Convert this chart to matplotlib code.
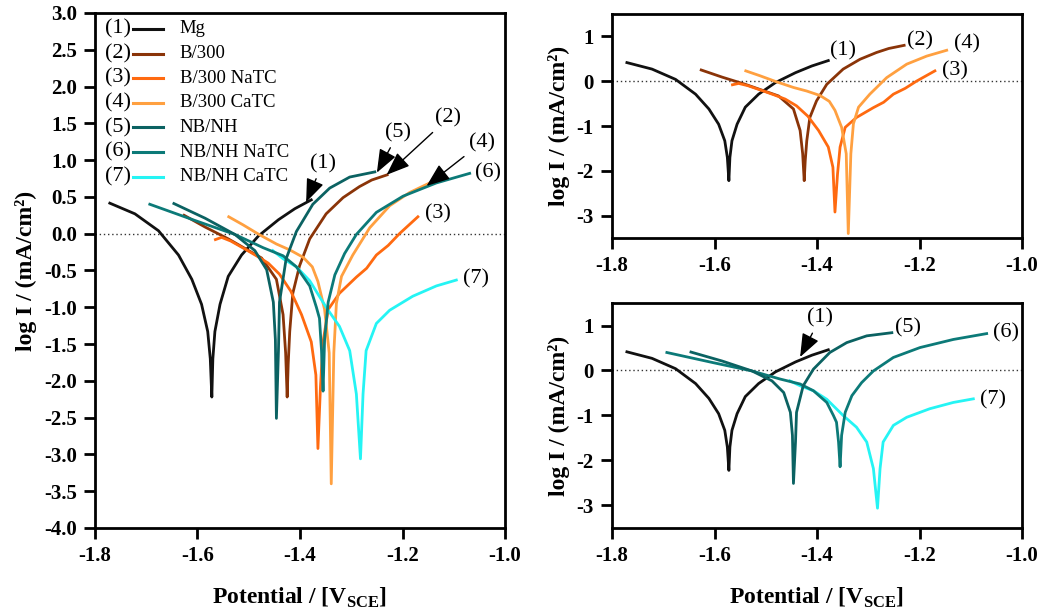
import matplotlib
import matplotlib.pyplot as plt

matplotlib.use("Agg")

plt.rcParams["font.family"] = ["Liberation Serif", "DejaVu Serif"]
plt.rcParams["mathtext.fontset"] = "custom"
plt.rcParams["mathtext.rm"] = "Liberation Serif"
plt.rcParams["mathtext.bf"] = "Liberation Serif:bold"
plt.rcParams["axes.unicode_minus"] = False

# ---------------------------------------------------------------------------
# Data: potential (V vs SCE) and log current density (mA/cm2)
# ---------------------------------------------------------------------------

labels = ["Mg", "B/300", "B/300 NaTC", "B/300 CaTC", "NB/NH", "NB/NH NaTC", "NB/NH CaTC"]
colours = ["#111111", "#8a3408", "#ff6a10", "#ffa040", "#0b6262", "#0c7a78", "#25f4f4"]

mg_E = [-1.771, -1.722, -1.676, -1.637, -1.611, -1.592, -1.580, -1.575, -1.572,
        -1.570, -1.566, -1.556, -1.540, -1.514, -1.481, -1.442, -1.410, -1.378]
mg_I = [0.415, 0.27, 0.04, -0.29, -0.62, -0.96, -1.33, -1.70, -2.22,
        -1.70, -1.33, -0.96, -0.58, -0.29, -0.03, 0.19, 0.34, 0.46]

b300_E = [-1.626, -1.585, -1.540, -1.475, -1.446, -1.433, -1.428, -1.425,
          -1.423, -1.420, -1.414, -1.401, -1.381, -1.349, -1.316, -1.284, -1.260, -1.230]
b300_I = [0.25, 0.09, -0.07, -0.33, -0.62, -1.10, -1.62, -2.22,
          -1.77, -1.33, -0.81, -0.44, -0.07, 0.27, 0.49, 0.64, 0.73, 0.80]

b300na_E = [-1.565, -1.553, -1.535, -1.507, -1.485, -1.462, -1.440, -1.418, -1.397,
            -1.378, -1.369, -1.365, -1.360, -1.355, -1.345, -1.323, -1.290, -1.270,
            -1.251, -1.228, -1.206, -1.170]
b300na_I = [-0.08, -0.05, -0.10, -0.21, -0.30, -0.40, -0.55, -0.78, -1.10,
            -1.47, -1.92, -2.92, -2.07, -1.47, -1.03, -0.81, -0.59, -0.47,
            -0.29, -0.16, 0.00, 0.23]

b300ca_E = [-1.539, -1.511, -1.480, -1.446, -1.420, -1.394, -1.376, -1.365, -1.352,
            -1.343, -1.339, -1.334, -1.329, -1.319, -1.297, -1.264, -1.225, -1.186, -1.147]
b300ca_I = [0.23, 0.12, -0.01, -0.14, -0.22, -0.32, -0.45, -0.65, -1.03,
            -1.62, -3.40, -1.62, -0.95, -0.58, -0.29, 0.08, 0.38, 0.56, 0.69]

nbnh_E = [-1.646, -1.585, -1.527, -1.488, -1.465, -1.452, -1.448, -1.446,
          -1.442, -1.440, -1.427, -1.407, -1.375, -1.342, -1.303, -1.254]
nbnh_I = [0.41, 0.21, -0.01, -0.23, -0.49, -0.93, -1.44, -2.51,
          -1.59, -0.93, -0.34, 0.03, 0.40, 0.62, 0.77, 0.84]

nbnhna_E = [-1.693, -1.605, -1.527, -1.472, -1.433, -1.407, -1.381, -1.368, -1.362,
            -1.358, -1.355, -1.352, -1.345, -1.332, -1.313, -1.290, -1.251, -1.199,
            -1.134, -1.069]
nbnhna_I = [0.40, 0.18, -0.01, -0.19, -0.30, -0.45, -0.71, -1.00, -1.15,
            -1.59, -2.14, -1.44, -0.93, -0.56, -0.27, -0.01, 0.29, 0.51,
            0.69, 0.82]

nbnhca_E = [-1.453, -1.433, -1.407, -1.381, -1.349, -1.323, -1.303, -1.290, -1.282,
            -1.277, -1.271, -1.251, -1.225, -1.180, -1.134, -1.095]
nbnhca_I = [-0.23, -0.34, -0.45, -0.64, -1.00, -1.26, -1.59, -2.18, -3.06,
            -2.18, -1.59, -1.22, -1.04, -0.85, -0.71, -0.63]

curves = [(mg_E, mg_I), (b300_E, b300_I), (b300na_E, b300na_I), (b300ca_E, b300ca_I),
          (nbnh_E, nbnh_I), (nbnhna_E, nbnhna_I), (nbnhca_E, nbnhca_I)]

x_ticks = [-1.8, -1.6, -1.4, -1.2, -1.0]
left_y_ticks = [-4.0, -3.5, -3.0, -2.5, -2.0, -1.5, -1.0, -0.5, 0.0, 0.5, 1.0, 1.5, 2.0, 2.5, 3.0]
right_y_ticks = [-3, -2, -1, 0, 1]

XLABEL = "Potential / [V$_{\\mathregular{SCE}}$]"
YLABEL = "log I / (mA/cm²)"

# annotation (text, text_xy, arrow_head_xy or None)
left_notes = [
    ("(1)", (-1.356, 0.95), (-1.388, 0.43)),
    ("(5)", (-1.208, 1.37), (-1.250, 0.83)),
    ("(2)", (-1.111, 1.57), (-1.231, 0.80)),
    ("(4)", (-1.045, 1.24), (-1.153, 0.65)),
    ("(6)", (-1.033, 0.83), None),
    ("(3)", (-1.130, 0.27), None),
    ("(7)", (-1.057, -0.62), None),
]
top_notes = [("(1)", (-1.350, 0.67)), ("(2)", (-1.199, 0.90)),
             ("(4)", (-1.107, 0.84)), ("(3)", (-1.131, 0.22))]
bottom_notes = [
    ("(1)", (-1.394, 1.16), (-1.433, 0.30)),
    ("(5)", (-1.222, 0.94), None),
    ("(6)", (-1.031, 0.83), None),
    ("(7)", (-1.057, -0.66), None),
]

LW = 2.0


def style_axes(ax, yticks, yfmt, ylim):
    ax.set_xlim(-1.8, -1.0)
    ax.set_ylim(*ylim)
    ax.set_xticks(x_ticks)
    ax.set_xticklabels([f"{v:.1f}" for v in x_ticks])
    ax.set_yticks(yticks)
    ax.set_yticklabels([yfmt.format(v) for v in yticks])
    for s in ax.spines.values():
        s.set_linewidth(2.0)
    ax.tick_params(direction="out", length=8, width=2.0, pad=5)
    for lab in ax.get_xticklabels() + ax.get_yticklabels():
        lab.set_fontsize(15)
        lab.set_fontweight("bold")
    ax.axhline(0, color="#333333", lw=1.0, ls=(0, (1, 2)), zorder=0)
    ax.set_ylabel(YLABEL, fontsize=17, fontweight="bold", labelpad=5)


def arrow_note(ax, text, xy_text, xy_head):
    if xy_head is None:
        ax.text(*xy_text, text, fontsize=16, ha="center", va="center")
    else:
        ax.annotate(text, xy=xy_head, xytext=xy_text, fontsize=16,
                    ha="center", va="center",
                    arrowprops=dict(arrowstyle="-|>,head_length=0.9,head_width=0.35",
                                    color="black", lw=1.0, shrinkA=2, shrinkB=0))


fig = plt.figure(figsize=(10.4, 6.13), dpi=100)
ax_l = fig.add_axes([0.0913, 0.1387, 0.3943, 0.8401])
ax_t = fig.add_axes([0.5885, 0.6117, 0.3942, 0.3655])
ax_b = fig.add_axes([0.5885, 0.1387, 0.3942, 0.3670])

# left: all curves
draw_order = [0, 1, 2, 3, 6, 5, 4]
for i in draw_order:
    E, I = curves[i]
    ax_l.plot(E, I, color=colours[i], lw=LW)
style_axes(ax_l, left_y_ticks, "{:.1f}", (-4.0, 3.0))
ax_l.set_xlabel(XLABEL, fontsize=17, fontweight="bold", labelpad=14)

# hand-made legend: "(n)" + line + name
for k, (lab, col) in enumerate(zip(labels, colours)):
    y = 0.969 - k * 0.0478
    ax_l.text(0.057, y, f"({k + 1})", transform=ax_l.transAxes, fontsize=16,
              ha="center", va="center")
    ax_l.plot([0.093, 0.166], [y, y], transform=ax_l.transAxes, color=col, lw=2.2)
    ax_l.text(0.207, y, lab, transform=ax_l.transAxes, fontsize=13.5,
              ha="left", va="center")

for text, xt, xh in left_notes:
    arrow_note(ax_l, text, xt, xh)

# top right: Mg and B/300 series
for i in [0, 1, 2, 3]:
    E, I = curves[i]
    ax_t.plot(E, I, color=colours[i], lw=LW)
style_axes(ax_t, right_y_ticks, "{:d}", (-3.5, 1.5))
for text, xt in top_notes:
    arrow_note(ax_t, text, xt, None)

# bottom right: Mg and NB/NH series
for i in [0, 6, 5, 4]:
    E, I = curves[i]
    ax_b.plot(E, I, color=colours[i], lw=LW)
style_axes(ax_b, right_y_ticks, "{:d}", (-3.5, 1.5))
ax_b.set_xlabel(XLABEL, fontsize=17, fontweight="bold", labelpad=14)
for text, xt, xh in bottom_notes:
    arrow_note(ax_b, text, xt, xh)

fig.savefig("out.png", dpi=100)
plt.close(fig)
